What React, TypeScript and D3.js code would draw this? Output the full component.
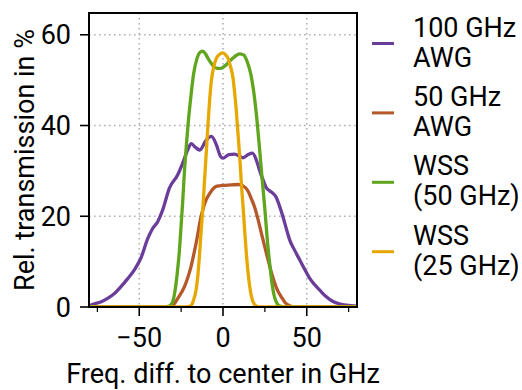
import React from "react";
import * as d3 from "d3";

const awg100X = [-80, -76.8, -73, -68.9, -65, -60.9, -57, -52.9, -49, -45, -42, -39, -36, -32, -27.1, -24.1, -21.1, -18.9, -16.5, -13.9, -10, -6.9, -4, -1.5, 0, 3.5, 7, 10, 12, 15, 17.5, 19.8, 21.5, 23.9, 26, 27.9, 30, 31.9, 33.5, 35.8, 38, 39.8, 42.5, 45.8, 48.5, 51.8, 54.5, 57.8, 61.5, 65.7, 69.5, 73.7, 80];
const awg100Y = [0.3, 0.7, 1.1, 1.9, 2.9, 4.5, 6.2, 8.2, 10.8, 15.0, 17.3, 18.8, 21.4, 26.2, 29.1, 31.7, 34.6, 36.0, 35.2, 34.6, 36.8, 37.6, 35.8, 33.2, 32.8, 33.6, 33.7, 33.2, 32.9, 33.6, 33.9, 32.5, 30.5, 28, 26.2, 25.6, 25, 24.1, 22.5, 19.9, 17, 14.8, 12.7, 10.4, 8.5, 6.3, 5.0, 3.7, 2.3, 1.2, 0.7, 0.4, 0.2];

const awg50X = [-80, -32, -29.8, -26.8, -23, -21, -19.1, -16.1, -13.1, -10.1, -8, -6.1, -4, -2, 0, 5, 9, 12, 15, 17, 18.9, 20.9, 22.9, 24.9, 26.9, 28.9, 30.9, 32.9, 34.9, 37, 39.8, 43, 80];
const awg50Y = [0, 0, 0.4, 2.0, 4.5, 6.5, 8.9, 14, 19.9, 23.6, 25.0, 26.0, 26.6, 26.7, 26.8, 26.9, 27.0, 26.7, 25.5, 23.8, 22.0, 19.3, 16.3, 13.3, 10.4, 7.6, 5.2, 3.4, 2.2, 1.0, 0.3, 0, 0];

const wss50X = [-80, -35, -32, -30, -28.6, -27.3, -26, -25, -24.1, -22.9, -22.1, -20.8, -19, -17.5, -15.5, -13.5, -12, -10.5, -8.5, -6, -3.5, -1.5, 1, 4, 7, 10, 12.5, 14.5, 16.5, 18.5, 20.2, 21.9, 23.3, 24.9, 26.4, 27.9, 29.4, 30.9, 32.4, 34, 37, 80];
const wss50Y = [0, 0, 0.2, 1.2, 3.7, 7.5, 12.6, 18, 23, 30.5, 34.6, 40.5, 47, 51.5, 54.8, 56.2, 56.4, 55.8, 54.5, 53.2, 52.6, 52.6, 53.1, 54.2, 55.2, 55.8, 55.5, 54, 51.5, 47, 41.5, 34.6, 28.5, 22, 15, 9.5, 4.8, 2.0, 0.7, 0.2, 0, 0];

const wss25X = [-80, -22, -19.1, -17.5, -16.1, -15, -14.1, -13, -12.1, -11, -10, -9, -8, -6.9, -5.5, -4, -2, -0.4, 1.5, 3, 4.5, 6, 7, 7.9, 9, 10, 11, 12, 13, 14, 15, 16, 17, 18.5, 20, 22, 80];
const wss25Y = [0, 0, 0.3, 1.6, 3.7, 7, 11.1, 17, 21.4, 28, 34, 40, 45.5, 50.0, 53, 54.8, 55.7, 56, 55.6, 54.8, 53, 50.4, 47, 43.5, 38, 33, 27, 22, 16.5, 11.5, 7.5, 4.4, 2.3, 0.7, 0.2, 0, 0];

const seriesNames = [["100 GHz", "AWG"], ["50 GHz", "AWG"], ["WSS", "(50 GHz)"], ["WSS", "(25 GHz)"]];
const seriesColors = ["#6a3d9a", "#b5582a", "#5fa51e", "#e6a800"];
const xTicksMajor = [-50, 0, 50];
const xTicksMinor = [-75, -25, 25, 75];
const yTicks = [0, 20, 40, 60];

const W = 522, H = 390;
const L = 89, R = 357, T = 13, B = 307;
const FONT = "Roboto, sans-serif";
const FS = 27;

export default function App() {
  const x = d3.scaleLinear().domain([-80, 80]).range([L, R]);
  const y = d3.scaleLinear().domain([0, 64.8]).range([B, T]);
  const fmt = d3.format("d");
  const line = d3.line<[number, number]>().x(d => x(d[0])).y(d => y(d[1])).curve(d3.curveMonotoneX);
  const series = [
    d3.zip(awg100X, awg100Y),
    d3.zip(awg50X, awg50Y),
    d3.zip(wss50X, wss50Y),
    d3.zip(wss25X, wss25Y),
  ] as [number, number][][];

  return (
    <div style={{ position: "absolute", left: 0, top: 0 }}>
      <svg width={W} height={H} style={{ display: "block", background: "#fff" }} fontFamily={FONT}>
        <defs>
          <clipPath id="plotclip">
            <rect x={L} y={T} width={R - L} height={B - T} />
          </clipPath>
        </defs>
        {xTicksMajor.map(t => (
          <line key={"gx" + t} x1={x(t)} x2={x(t)} y1={T} y2={B} stroke="#b0b0b0" strokeWidth={1.6} strokeDasharray="1.6,3.4" />
        ))}
        {yTicks.filter(t => t > 0).map(t => (
          <line key={"gy" + t} x1={L} x2={R} y1={y(t)} y2={y(t)} stroke="#b0b0b0" strokeWidth={1.6} strokeDasharray="1.6,3.4" />
        ))}
        <g clipPath="url(#plotclip)">
          {series.map((s, i) => (
            <path key={i} d={line(s) || ""} fill="none" stroke={seriesColors[i]} strokeWidth={3.3} strokeLinejoin="round" strokeLinecap="round" />
          ))}
        </g>
        <rect x={L} y={T} width={R - L} height={B - T} fill="none" stroke="#000" strokeWidth={2} />
        {xTicksMajor.map(t => (
          <g key={"xt" + t}>
            <line x1={x(t)} x2={x(t)} y1={B} y2={B + 9} stroke="#000" strokeWidth={1.6} />
            <text x={x(t)} y={347} textAnchor="middle" fontSize={FS} fill="#000">{fmt(t)}</text>
          </g>
        ))}
        {xTicksMinor.map(t => (
          <line key={"xm" + t} x1={x(t)} x2={x(t)} y1={B} y2={B + 5} stroke="#000" strokeWidth={1.2} />
        ))}
        {yTicks.map(t => (
          <g key={"yt" + t}>
            <line x1={L} x2={L - 9} y1={y(t)} y2={y(t)} stroke="#000" strokeWidth={1.6} />
            <text x={71} y={y(t)} dy="0.36em" textAnchor="end" fontSize={FS} fill="#000">{fmt(t)}</text>
          </g>
        ))}
        <text x={(L + R) / 2} y={383} textAnchor="middle" fontSize={FS} fill="#000">Freq. diff. to center in GHz</text>
        <text transform={`translate(33.5,${(T + B) / 2}) rotate(-90)`} textAnchor="middle" fontSize={FS} fill="#000">Rel. transmission in %</text>
        {seriesNames.map((nm, i) => {
          const base = 36.5 + i * 69.4;
          return (
            <g key={"lg" + i}>
              <line x1={372} x2={394} y1={base + 7} y2={base + 7} stroke={seriesColors[i]} strokeWidth={3} />
              <text x={413} y={base} fontSize={FS} fill="#000">{nm[0]}</text>
              <text x={413} y={base + 30} fontSize={FS} fill="#000">{nm[1]}</text>
            </g>
          );
        })}
      </svg>
    </div>
  );
}
